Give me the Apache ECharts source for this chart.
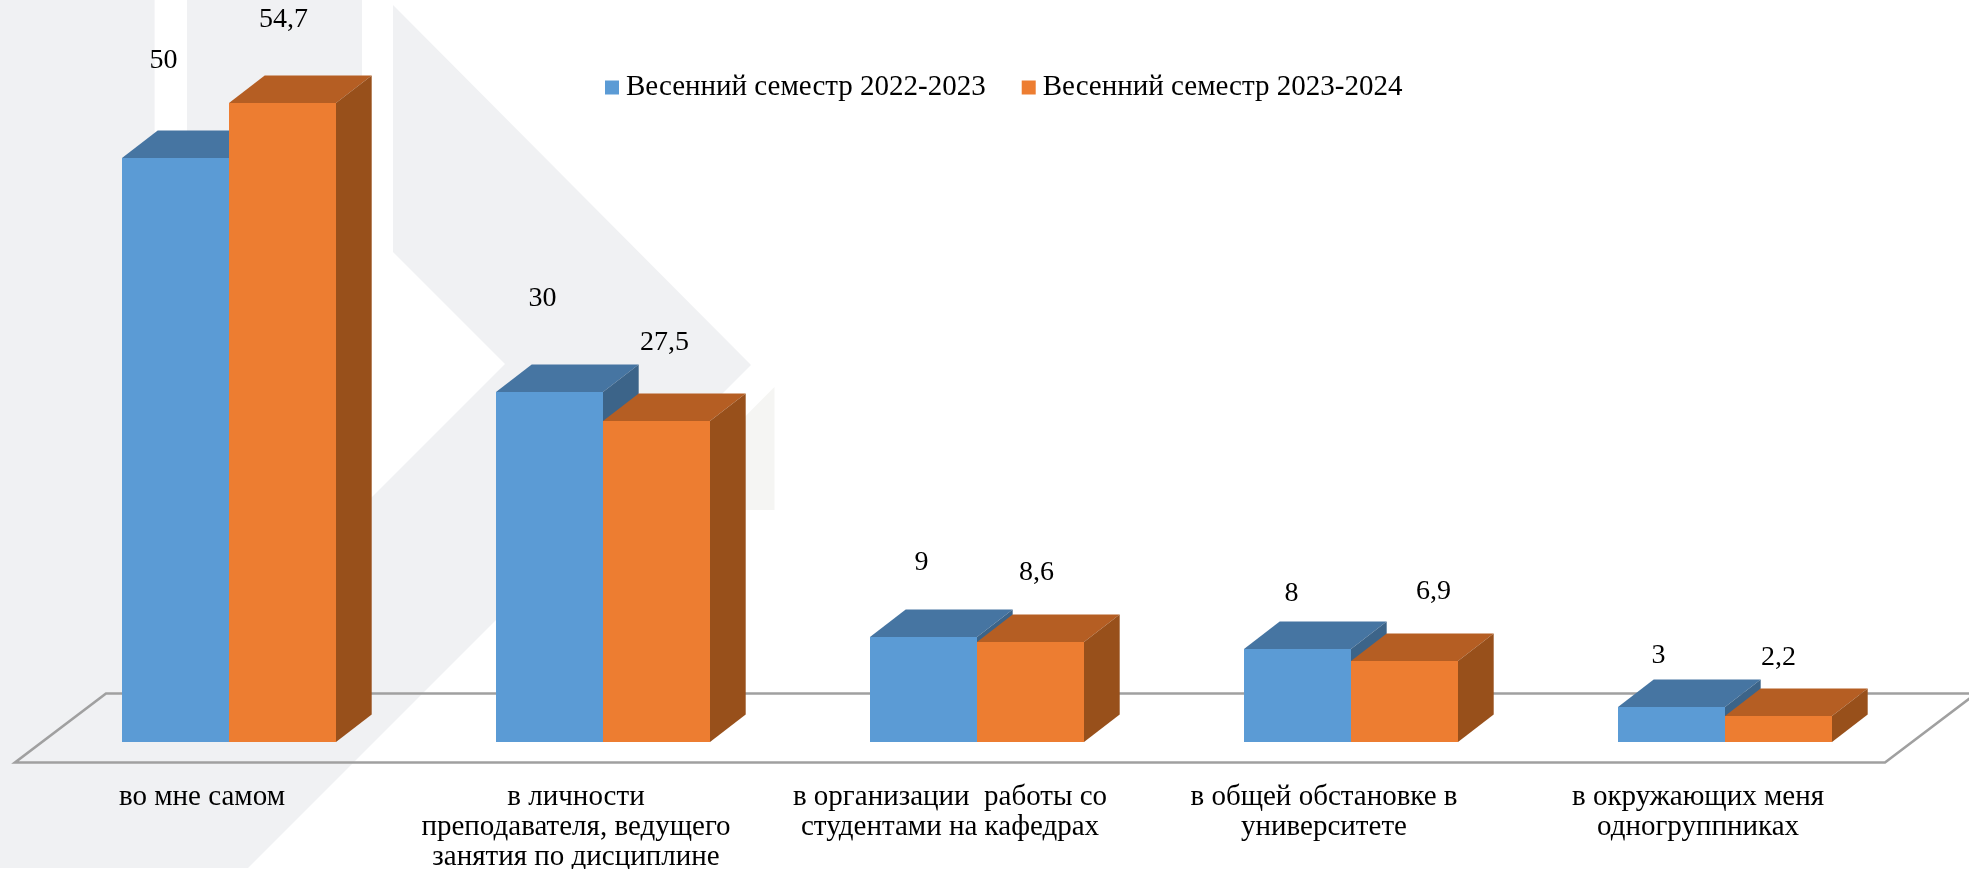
<!DOCTYPE html>
<html>
<head>
<meta charset="utf-8">
<style>html,body{margin:0;padding:0;background:#fff}#c{width:1969px;height:869px}</style>
<script src="https://cdn.jsdelivr.net/npm/echarts@6/dist/echarts.min.js"></script>
</head>
<body>
<div id="c"></div>
<script>
// ---- data ----
const categories = [
  'во мне самом',
  'в личности\nпреподавателя, ведущего\nзанятия по дисциплине',
  'в организации  работы со\nстудентами на кафедрах',
  'в общей обстановке в\nуниверситете',
  'в окружающих меня\nодногруппниках'
];
const seriesNames = ['Весенний семестр 2022-2023', 'Весенний семестр 2023-2024'];
const spring2023 = [50, 30, 9, 8, 3];
const spring2024 = [54.7, 27.5, 8.6, 6.9, 2.2];

// ---- hand-placed data label offsets from the front-top centre of each bar (dx, up) ----
const labelShift2023 = [[-12, 97], [-7, 93], [-2, 74], [-6, 55], [-13, 51]];
const labelShift2024 = [[1, 83], [8, 78], [6, 69], [29, 69], [0, 58]];

// ---- styles ----
const FONT = '"Liberation Serif", serif';
const faces = [
  { front: '#5b9bd5', top: '#4675a2', side: '#3c6489' },
  { front: '#ed7d31', top: '#b55e23', side: '#98501b' }
];
const BAR_RATIO = 107 / 374, SHIFT_RATIO = 26.6 / 374, DEPTH_RATIO = 35.7 / 374, DEPTH_Y = 27.5;

function barRenderer(seriesIdx, shifts) {
  return function (params, api) {
    const i = api.value(0), v = api.value(1);
    const top = api.coord([i, v]), base = api.coord([i, 0]);
    const band = api.size([1, 0])[0];
    const w = Math.round(band * BAR_RATIO), dx = band * DEPTH_RATIO, dy = DEPTH_Y;
    const mid = Math.round(top[0] + band * SHIFT_RATIO);
    const x0 = seriesIdx === 0 ? mid - w : mid, x1 = x0 + w;
    const yT = Math.round(top[1]), yB = Math.round(base[1]);
    const c = faces[seriesIdx], s = shifts[i];
    return {
      type: 'group',
      children: [
        { type: 'polygon', shape: { points: [[x0, yT], [x0 + dx, yT - dy], [x1 + dx, yT - dy], [x1, yT]] }, style: { fill: c.top } },
        { type: 'polygon', shape: { points: [[x1, yT], [x1 + dx, yT - dy], [x1 + dx, yB - dy], [x1, yB]] }, style: { fill: c.side } },
        { type: 'rect', shape: { x: x0, y: yT, width: w, height: yB - yT }, style: { fill: c.front } },
        { type: 'text', x: (x0 + x1) / 2 + s[0], y: yT - s[1],
          style: { text: String(v).replace('.', ','), font: '28px ' + FONT, fill: '#000', align: 'center', verticalAlign: 'middle' } }
      ]
    };
  };
}

const chart = echarts.init(document.getElementById('c'), null, { renderer: 'canvas' });
chart.setOption({
  animation: false,
  backgroundColor: '#fff',
  grid: { left: 15, width: 1870, top: 41.2, bottom: 127, containLabel: false, outerBoundsMode: 'none' },
  xAxis: {
    type: 'category', data: categories,
    axisLine: { show: false }, axisTick: { show: false }, splitLine: { show: false },
    axisLabel: { interval: 0, margin: 40, color: '#000', fontFamily: FONT, fontSize: 29, lineHeight: 30, align: 'center' }
  },
  yAxis: { type: 'value', min: 0, max: 60, show: false },
  legend: {
    left: 605, top: 73, padding: 0, itemWidth: 14, itemHeight: 14, itemGap: 36,
    icon: 'rect', data: seriesNames,
    textStyle: { fontFamily: FONT, fontSize: 29, color: '#000', padding: [0, 0, 0, 2] }
  },
  graphic: [
    { type: 'polygon', z: 0, silent: true,
      shape: { points: [[0,0],[154.6,0],[154.6,300],[187,300],[187,0],[362,0],[362,507],[505,364],[393,252],[393,5],[751,365],[248,868],[0,868]] },
      style: { fill: '#f0f1f3' } },
    { type: 'polygon', z: 0, silent: true,
      shape: { points: [[774.5,387],[774.5,510],[700,510],[700,462]] },
      style: { fill: '#f5f5f3' } },
    { type: 'polygon', z: 1, silent: true,
      shape: { points: [[106,693.5],[15,762.5],[1885,762.5],[1976,693.5]] },
      style: { fill: 'none', stroke: '#a0a0a0', lineWidth: 2.6 } }
  ],
  series: [
    { name: seriesNames[0], type: 'custom', z: 5, clip: false, itemStyle: { color: faces[0].front },
      data: spring2023.map((v, i) => [i, v]), encode: { x: 0, y: 1 }, renderItem: barRenderer(0, labelShift2023) },
    { name: seriesNames[1], type: 'custom', z: 6, clip: false, itemStyle: { color: faces[1].front },
      data: spring2024.map((v, i) => [i, v]), encode: { x: 0, y: 1 }, renderItem: barRenderer(1, labelShift2024) }
  ]
});
</script>
</body>
</html>
